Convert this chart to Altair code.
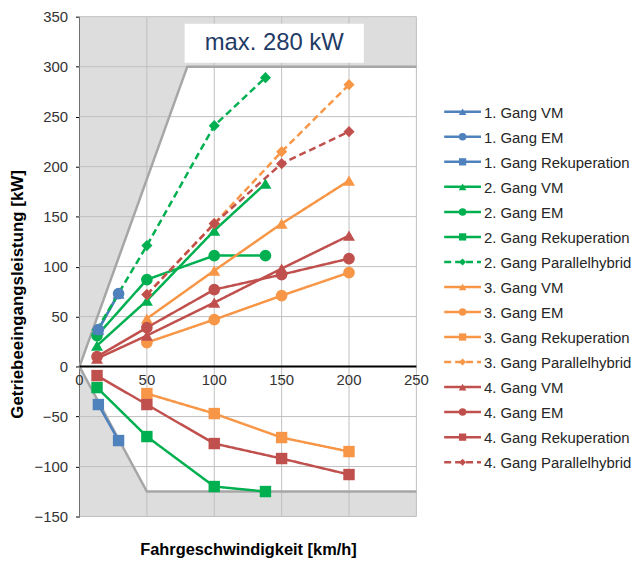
import altair as alt
import pandas as pd

# ---------------- data ----------------
g1_speed = [14, 29]
g1_vm = [37, 73]
g1_em = [37, 73]
g1_rek = [-38, -74]

g2_speed = [13, 50, 100, 138]
g2_vm = [21, 66, 136, 183]
g2_em = [31, 87, 111, 111]
g2_rek = [-21, -70, -120, -125]
g2_ph = [37, 121, 241, 289]

g3_speed = [50, 100, 150, 200]
g3_vm = [48, 96, 143, 186]
g3_em = [24, 47, 71, 94]
g3_rek = [-27, -47, -71, -85]
g3_ph = [72, 143, 215, 282]

g4_speed = [13, 50, 100, 150, 200]
g4_vm = [8, 31, 64, 98, 131]
g4_em = [10, 39, 77, 92, 108]
g4_rek = [-9, -38, -77, -92, -108]
g4_ph_speed = [50, 100, 150, 200]
g4_ph = [72, 143, 203, 235]

# operating limits (grey region boundary)
upper_speed = [0, 80, 250]
upper_power = [0, 300, 300]
lower_speed = [0, 50, 250]
lower_power = [0, -125, -125]

x_ticks = [0, 50, 100, 150, 200, 250]
y_ticks = [-150, -100, -50, 0, 50, 100, 150, 200, 250, 300, 350]

note_text = "max. 280 kW"

BLUE, GREEN, ORANGE, RED = "#4F81BD", "#00B050", "#F79646", "#C0504D"

series = [
    ("1. Gang VM", g1_speed, g1_vm, BLUE, "triangle-up", "solid"),
    ("1. Gang EM", g1_speed, g1_em, BLUE, "circle", "solid"),
    ("1. Gang Rekuperation", g1_speed, g1_rek, BLUE, "square", "solid"),
    ("2. Gang VM", g2_speed, g2_vm, GREEN, "triangle-up", "solid"),
    ("2. Gang EM", g2_speed, g2_em, GREEN, "circle", "solid"),
    ("2. Gang Rekuperation", g2_speed, g2_rek, GREEN, "square", "solid"),
    ("2. Gang Parallelhybrid", g2_speed, g2_ph, GREEN, "diamond", "dashed"),
    ("3. Gang VM", g3_speed, g3_vm, ORANGE, "triangle-up", "solid"),
    ("3. Gang EM", g3_speed, g3_em, ORANGE, "circle", "solid"),
    ("3. Gang Rekuperation", g3_speed, g3_rek, ORANGE, "square", "solid"),
    ("3. Gang Parallelhybrid", g3_speed, g3_ph, ORANGE, "diamond", "dashed"),
    ("4. Gang VM", g4_speed, g4_vm, RED, "triangle-up", "solid"),
    ("4. Gang EM", g4_speed, g4_em, RED, "circle", "solid"),
    ("4. Gang Rekuperation", g4_speed, g4_rek, RED, "square", "solid"),
    ("4. Gang Parallelhybrid", g4_ph_speed, g4_ph, RED, "diamond", "dashed"),
]

names = [s[0] for s in series]
colors = [s[3] for s in series]

rows = []
for i, (name, sp, pw, col, shp, sty) in enumerate(series):
    for v, p in zip(sp, pw):
        rows.append({"series": name, "v": v, "p": p, "marker": shp, "style": sty,
                     "z": (i + 15) if name.startswith("1.") else i})
df = pd.DataFrame(rows)
df_pts = df.sort_values("z", kind="stable").reset_index(drop=True)

leg = pd.DataFrame({
    "series": names,
    "marker": [s[4] for s in series],
    "style": [s[5] for s in series],
})

FONT = "Liberation Sans"
W, H = 339, 503

xs = alt.Scale(domain=[0, 250], nice=False, zero=False)
ys = alt.Scale(domain=[-150, 350], nice=False, zero=False)

color_enc = alt.Color("series:N", scale=alt.Scale(domain=names, range=colors), legend=None)
dash_enc = alt.StrokeDash("style:N", scale=alt.Scale(domain=["solid", "dashed"], range=[[1, 0], [7, 4]]), legend=None)
shape_enc = alt.Shape("marker:N", scale=alt.Scale(domain=["triangle-up", "circle", "square", "diamond"],
                                                  range=["triangle-up", "circle", "square", "diamond"]), legend=None)

# grey areas
up_df = pd.DataFrame({"v": upper_speed, "p": upper_power})
lo_df = pd.DataFrame({"v": lower_speed, "p": lower_power})

up_area = alt.Chart(up_df).mark_area(color="#DDDDDD", opacity=1).encode(
    x=alt.X("v:Q", scale=xs,
            axis=alt.Axis(title="Fahrgeschwindigkeit [km/h]", labels=False, ticks=False, domain=False,
                          grid=False, titleFont=FONT, titleFontSize=16.5, titleFontWeight="bold",
                          titleColor="#000000", titlePadding=25)),
    y=alt.Y("p:Q", scale=ys,
            axis=alt.Axis(title="Getriebeeingangsleistung [kW]", values=y_ticks, grid=False,
                          labelFont=FONT, labelFontSize=15, labelColor="#333333", labelPadding=8,
                          tickSize=4, tickColor="#000000", domainColor="#000000", domainWidth=2,
                          titleFont=FONT, titleFontSize=17, titleFontWeight="bold", titleColor="#000000",
                          titleY=279, titlePadding=8)),
    y2=alt.datum(350),
)
lo_area = alt.Chart(lo_df).mark_area(color="#DDDDDD", opacity=1).encode(
    x=alt.X("v:Q", scale=xs), y=alt.Y("p:Q", scale=ys), y2=alt.datum(-150)
)

grid_v = alt.Chart(pd.DataFrame({"t": x_ticks[1:]})).mark_rule(color="#BFBFBF", strokeWidth=1).encode(
    x=alt.X("t:Q", scale=xs), y=alt.datum(-150), y2=alt.datum(350)
)
grid_h = alt.Chart(pd.DataFrame({"t": y_ticks})).mark_rule(color="#BFBFBF", strokeWidth=1).encode(
    y=alt.Y("t:Q", scale=ys), x=alt.datum(0), x2=alt.datum(250)
)

up_line = alt.Chart(up_df).mark_line(color="#A6A6A6", strokeWidth=2.5).encode(
    x=alt.X("v:Q", scale=xs), y=alt.Y("p:Q", scale=ys)
)
lo_line = alt.Chart(lo_df).mark_line(color="#A6A6A6", strokeWidth=2.5).encode(
    x=alt.X("v:Q", scale=xs), y=alt.Y("p:Q", scale=ys)
)

zero_line = alt.Chart(pd.DataFrame({"t": [0]})).mark_rule(color="#000000", strokeWidth=2).encode(
    y=alt.Y("t:Q", scale=ys), x=alt.datum(0), x2=alt.datum(250)
)

x_labels = alt.Chart(pd.DataFrame({"t": x_ticks})).mark_text(
    font=FONT, fontSize=15, color="#333333", baseline="top", dy=7
).encode(x=alt.X("t:Q", scale=xs), y=alt.datum(0), text=alt.Text("t:Q"))

lines = alt.Chart(df).mark_line(strokeWidth=2.5).encode(
    x=alt.X("v:Q", scale=xs), y=alt.Y("p:Q", scale=ys),
    color=color_enc, strokeDash=dash_enc, detail="series:N", order="v:Q"
)
points = alt.Chart(df_pts).mark_point(filled=True, opacity=1, strokeWidth=0).encode(
    x=alt.X("v:Q", scale=xs), y=alt.Y("p:Q", scale=ys),
    color=color_enc, shape=shape_enc,
    size=alt.Size("marker:N", scale=alt.Scale(domain=["triangle-up", "circle", "square", "diamond"],
                                              range=[145, 125, 120, 85]), legend=None),
)

note_box = alt.Chart(pd.DataFrame({"a": [78], "b": [211], "c": [304], "d": [343]})).mark_rect(
    color="#FFFFFF").encode(x=alt.X("a:Q", scale=xs), x2="b:Q", y=alt.Y("c:Q", scale=ys), y2="d:Q")
note = alt.Chart(pd.DataFrame({"a": [144.5], "c": [323.5], "txt": [note_text]})).mark_text(
    font=FONT, fontSize=24, color="#1F3B66", align="center", baseline="middle"
).encode(x=alt.X("a:Q", scale=xs), y=alt.Y("c:Q", scale=ys), text="txt:N")

main = alt.layer(up_area, lo_area, grid_v, grid_h, up_line, lo_line, lines, points,
                 zero_line, x_labels, note_box, note).properties(width=W, height=H)

# --------- legend panel ---------
ly = alt.Y("series:N", sort=names, scale=alt.Scale(type="point", domain=names, range=[95.7, 448.3], padding=0),
           axis=None)
leg_lines = alt.Chart(leg).mark_rule(strokeWidth=2.5).encode(
    x=alt.value(0), x2=alt.value(37), y=ly, color=color_enc, strokeDash=dash_enc)
leg_pts = alt.Chart(leg).mark_point(filled=True, opacity=1, strokeWidth=0).encode(
    x=alt.value(18.5), y=ly, color=color_enc, shape=shape_enc,
    size=alt.Size("marker:N", scale=alt.Scale(domain=["triangle-up", "circle", "square", "diamond"],
                                              range=[60, 50, 50, 40]), legend=None))
leg_txt = alt.Chart(leg).mark_text(font=FONT, fontSize=15, color="#262626", align="left", baseline="middle",
                                   dy=1).encode(x=alt.value(40), y=ly, text="series:N")
legend = alt.layer(leg_lines, leg_pts, leg_txt).properties(width=190, height=H)

chart = alt.hconcat(main, legend, spacing=13).resolve_scale(
    color="shared", shape="shared", strokeDash="shared", size="independent", y="independent"
).properties(
    padding={"left": 8, "top": 8, "right": 2, "bottom": 5}
).configure_view(stroke=None)

chart.save("out.html", embed_options={"renderer": "svg", "actions": False})
